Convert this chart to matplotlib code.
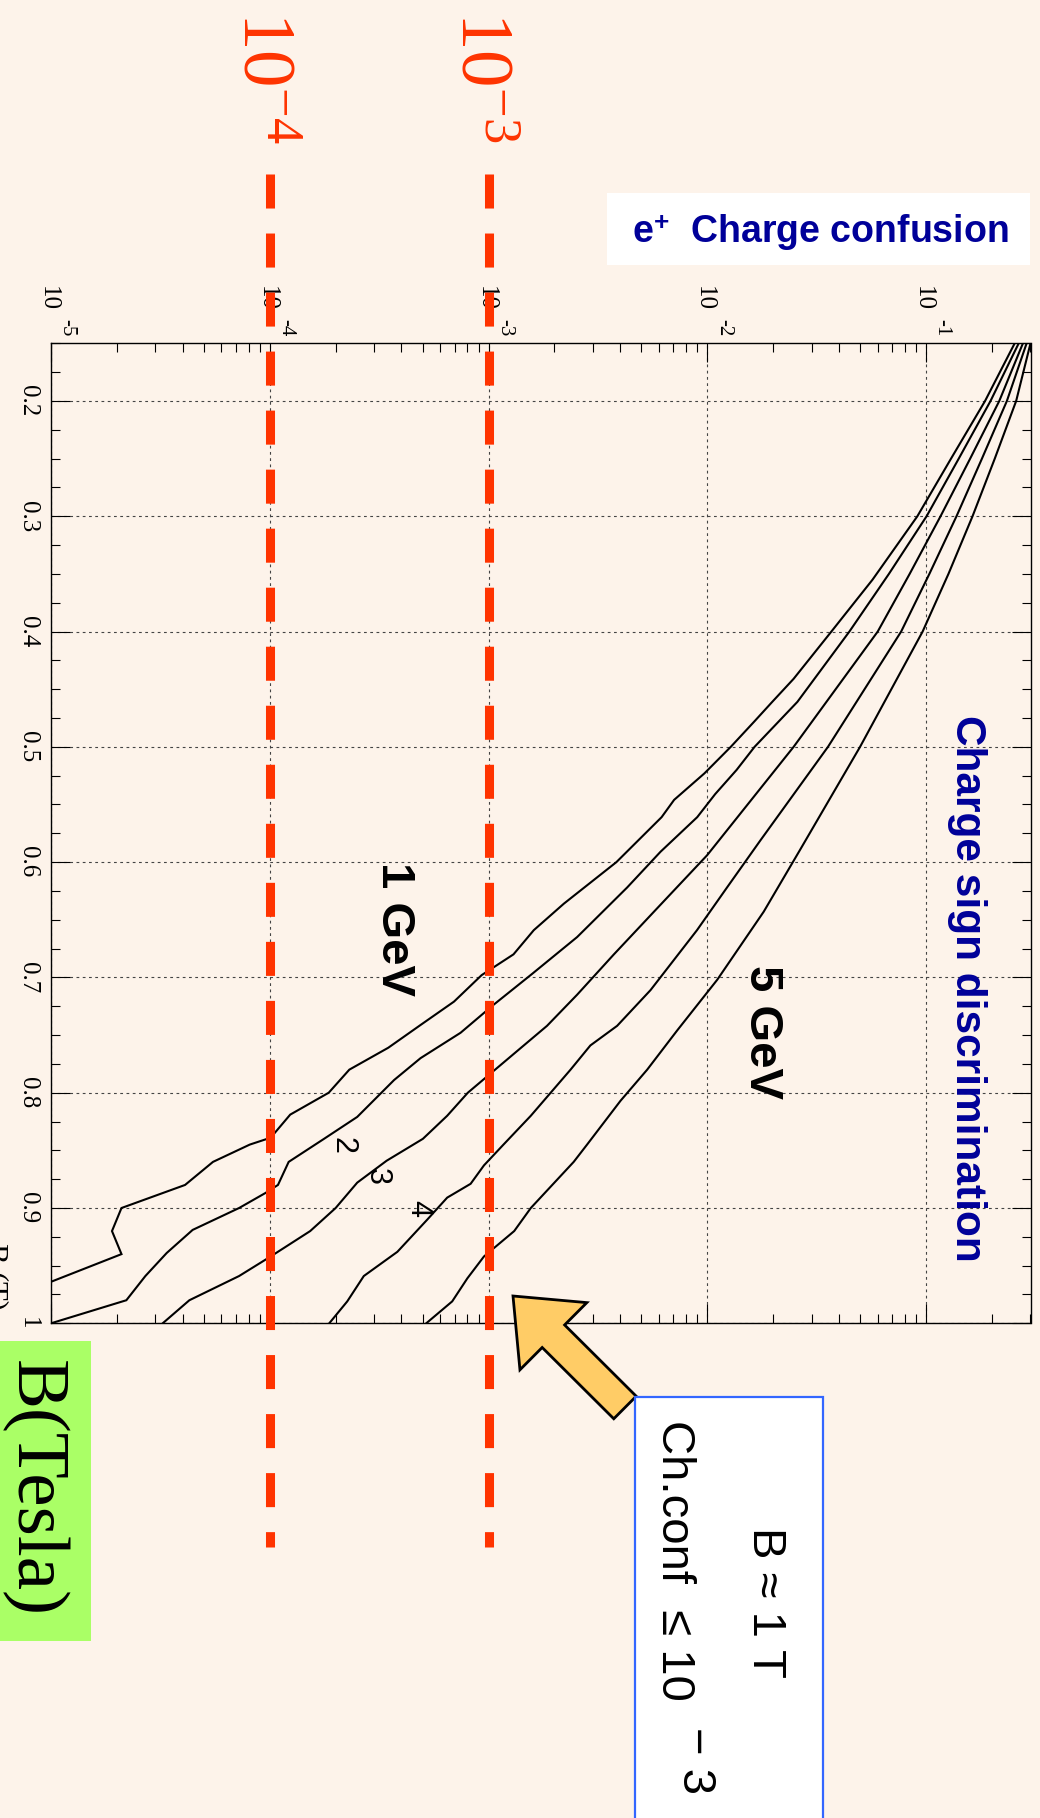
import matplotlib
matplotlib.use("Agg")
import matplotlib.pyplot as plt
import numpy as np
from matplotlib.ticker import FixedLocator, MultipleLocator, LogLocator, NullFormatter
from matplotlib.patches import Rectangle, FancyArrow
from matplotlib.lines import Line2D
from matplotlib.transforms import Affine2D, blended_transform_factory

plt.rcParams['mathtext.fontset'] = 'custom'
plt.rcParams['mathtext.rm'] = 'Liberation Serif'
plt.rcParams['mathtext.it'] = 'Liberation Serif:italic'
plt.rcParams['mathtext.bf'] = 'Liberation Sans:bold'
plt.rcParams['mathtext.sf'] = 'Liberation Sans'
plt.rcParams['lines.scale_dashes'] = False

# ---- data: charge confusion probability vs. magnetic field, per momentum ----
b_1gev = [0.15, 0.20, 0.25, 0.30, 0.355, 0.40, 0.441, 0.461, 0.478, 0.50, 0.523, 0.546,
          0.561, 0.60, 0.636, 0.659, 0.680, 0.698, 0.721, 0.741, 0.761, 0.780, 0.800,
          0.819, 0.839, 0.845, 0.860, 0.880, 0.900, 0.920, 0.940, 0.964]
conf_1gev = [0.254, 0.186, 0.130, 0.0912, 0.0569, 0.0369, 0.0248, 0.0198, 0.0164, 0.0128,
             0.0097, 0.00705, 0.00618, 0.00384, 0.00221, 0.00161, 0.00130, 0.00093,
             0.000695, 0.000491, 0.000348, 0.000231, 0.000186, 0.000124, 0.000101,
             8.1e-5, 5.5e-5, 4.1e-5, 2.1e-5, 1.9e-5, 2.1e-5, 1.0e-5]

b_2gev = [0.15, 0.20, 0.25, 0.30, 0.35, 0.40, 0.461, 0.50, 0.52, 0.541, 0.561, 0.591,
          0.622, 0.665, 0.697, 0.724, 0.748, 0.770, 0.789, 0.821, 0.840, 0.860, 0.880,
          0.887, 0.900, 0.919, 0.939, 0.959, 0.980, 1.0]
conf_2gev = [0.265, 0.197, 0.141, 0.1005, 0.0676, 0.0446, 0.0258, 0.01644, 0.01361,
             0.01086, 0.00899, 0.00611, 0.0043, 0.00254, 0.00158, 0.00105, 0.000745,
             0.000489, 0.00037, 0.000251, 0.000177, 0.000122, 0.000109, 9.55e-5,
             7.24e-5, 4.44e-5, 3.38e-5, 2.70e-5, 2.21e-5, 1.0e-5]

b_3gev = [0.15, 0.20, 0.25, 0.30, 0.35, 0.40, 0.50, 0.594, 0.640, 0.680, 0.715, 0.742,
          0.766, 0.800, 0.820, 0.840, 0.859, 0.878, 0.900, 0.920, 0.942, 0.959, 0.980, 1.0]
conf_3gev = [0.277, 0.216, 0.159, 0.1164, 0.0841, 0.0601, 0.0248, 0.00998, 0.0059,
             0.00374, 0.00254, 0.00185, 0.00131, 0.000804, 0.000647, 0.000501,
             0.000342, 0.000251, 0.000200, 0.000153, 0.000101, 7.24e-5, 4.29e-5, 3.24e-5]

b_4gev = [0.15, 0.20, 0.25, 0.30, 0.35, 0.40, 0.50, 0.581, 0.622, 0.659, 0.711, 0.742,
          0.759, 0.780, 0.820, 0.845, 0.863, 0.879, 0.891, 0.910, 0.938, 0.959, 0.981, 1.0]
conf_4gev = [0.288, 0.234, 0.180, 0.1377, 0.1035, 0.0769, 0.0356, 0.0175, 0.0123,
             0.00897, 0.0055, 0.00387, 0.00292, 0.00237, 0.00156, 0.00117, 0.000953,
             0.000828, 0.000647, 0.000525, 0.000383, 0.000269, 0.000226, 0.000187]

b_5gev = [0.15, 0.20, 0.25, 0.30, 0.35, 0.40, 0.50, 0.589, 0.643, 0.702, 0.746, 0.780,
          0.807, 0.845, 0.860, 0.900, 0.920, 0.942, 0.961, 0.981, 1.0]
conf_5gev = [0.300, 0.258, 0.206, 0.163, 0.1265, 0.0964, 0.0499, 0.0266, 0.0181, 0.0111,
             0.00728, 0.00531, 0.00401, 0.00282, 0.00245, 0.00156, 0.00131, 0.000953,
             0.00080, 0.000682, 0.000519]

conf_ticks = [1e-5, 1e-4, 1e-3, 1e-2, 1e-1]
conf_exponents = ["-5", "-4", "-3", "-2", "-1"]
b_ticks = [0.2, 0.3, 0.4, 0.5, 0.6, 0.7, 0.8, 0.9, 1.0]
b_tick_labels = ["0.2", "0.3", "0.4", "0.5", "0.6", "0.7", "0.8", "0.9", "1"]
thresholds = [1e-4, 1e-3]
threshold_labels = [r"$10^{-4}$", r"$10^{-3}$"]

# ---- style ----
W, H, DPI = 1040, 1818, 100
BG = '#fdf3ea'
RED = '#ff3300'
NAVY = '#000099'
SERIF = 'Liberation Serif'
SANS = 'Liberation Sans'

fig = plt.figure(figsize=(W / DPI, H / DPI), dpi=DPI, facecolor=BG)
# pixel coordinates measured from the top-left corner of the canvas
PX = Affine2D().scale(1.0 / W, -1.0 / H).translate(0, 1) + fig.transFigure

ax_l, ax_r, ax_t, ax_b = 51, 1030.5, 343.3, 1323.3
ax = fig.add_axes([ax_l / W, 1 - ax_b / H, (ax_r - ax_l) / W, (ax_b - ax_t) / H])
ax.set_facecolor(BG)
ax.set_xscale('log')
ax.set_xlim(1e-5, 0.30)
ax.set_ylim(1.0, 0.15)

for b, c in [(b_1gev, conf_1gev), (b_2gev, conf_2gev), (b_3gev, conf_3gev),
             (b_4gev, conf_4gev), (b_5gev, conf_5gev)]:
    ax.plot(c, b, color='black', lw=1.5, solid_joinstyle='miter', zorder=3)

ax.xaxis.set_major_locator(FixedLocator(conf_ticks))
ax.xaxis.set_minor_locator(LogLocator(base=10, subs=np.arange(2, 10), numticks=30))
ax.xaxis.set_minor_formatter(NullFormatter())
ax.yaxis.set_major_locator(FixedLocator(b_ticks))
ax.yaxis.set_minor_locator(MultipleLocator(0.025))
ax.tick_params(which='both', direction='in', top=True, bottom=True, left=True, right=True,
               labelbottom=False, labeltop=False, labelleft=False, labelright=False,
               width=0.8, color='black')
ax.tick_params(which='major', length=14)
ax.tick_params(which='minor', length=6.8)
ax.grid(True, which='major', color='#444444', lw=0.8, ls=(0, (2.0, 2.5)))
for s in ax.spines.values():
    s.set_linewidth(1.0)

# tick labels, laid out along the rotated axes
for v, e in zip(conf_ticks, conf_exponents):
    ax.annotate("10", xy=(v, 1), xycoords=('data', 'axes fraction'), xytext=(-9, 32),
                textcoords='offset pixels', rotation=-90, rotation_mode='anchor',
                ha='right', va='baseline', family=SERIF, fontsize=18, annotation_clip=False)
    ax.annotate(e, xy=(v, 1), xycoords=('data', 'axes fraction'), xytext=(11.5, 7),
                textcoords='offset pixels', rotation=-90, rotation_mode='anchor',
                ha='right', va='baseline', family=SERIF, fontsize=15, annotation_clip=False)
for v, s in zip(b_ticks, b_tick_labels):
    ax.annotate(s, xy=(0, v), xycoords=('axes fraction', 'data'), xytext=(-29.3, 0),
                textcoords='offset pixels', rotation=-90, rotation_mode='anchor',
                ha='center', va='baseline', family=SERIF, fontsize=18, annotation_clip=False)

# old axis title, mostly off the canvas
fig.text(-13, 1243, "B (T)", transform=PX, rotation=-90, rotation_mode='anchor',
         ha='left', va='baseline', family=SERIF, fontsize=22)

# curve labels
rot = dict(rotation=-90, ha='center', va='center', transform=PX)
fig.text(394, 929, "1 GeV", family=SANS, fontweight='bold', fontsize=34, **rot)
fig.text(762, 1032, "5 GeV", family=SANS, fontweight='bold', fontsize=34, **rot)
fig.text(967, 988, "Charge sign discrimination", family=SANS, fontweight='bold',
         fontsize=30.5, color=NAVY, **rot)
for s, (x, y) in zip(["2", "3", "4"], [(343, 1145), (377, 1176), (418, 1208)]):
    fig.text(x, y, s, family=SANS, fontsize=22, **rot)

# title box
fig.add_artist(Rectangle((607, 193), 423, 72, transform=PX, fc='white', ec='none'))
fig.text(632, 243, r"$\mathbf{e}^{\mathbf{+}}$  Charge confusion", transform=PX,
         family=SANS, fontweight='bold', fontsize=27, color=NAVY, ha='left', va='baseline')

# threshold lines at 1e-4 and 1e-3 with their big labels
vtrans = blended_transform_factory(ax.transData, PX)
for v in thresholds:
    fig.add_artist(Line2D([v, v], [174, 1547], transform=vtrans, color=RED, lw=6.5,
                          dashes=(24.5, 18.0), dash_capstyle='butt', clip_on=False, zorder=5))
for v, lab in zip(thresholds, threshold_labels):
    xc = vtrans.transform((v, 0))[0]
    fig.text(xc - 27, 11, lab, transform=PX, rotation=-90, rotation_mode='anchor',
             ha='left', va='baseline', fontsize=54, color=RED)

# x-axis name box
fig.add_artist(Rectangle((0, 1341), 91, 300, transform=PX, fc='#aaff66', ec='none'))
fig.text(16, 1360, "B(Tesla)", transform=PX, rotation=-90, rotation_mode='anchor',
         ha='left', va='baseline', family=SERIF, fontsize=54, color='black')

# working-point note with arrow
fig.add_artist(FancyArrow(625, 1407.5, -112, -111.5, width=31.8, head_width=94.8,
                          head_length=57, length_includes_head=True, transform=PX,
                          fc='#ffcc66', ec='black', lw=2.0, joinstyle='miter'))
fig.add_artist(Rectangle((635, 1397), 188, 450, transform=PX, fc='white',
                         ec='#3366ff', lw=1.6))
fig.text(753, 1527, "B \u2248 1 T", transform=PX, rotation=-90, rotation_mode='anchor',
         ha='left', va='baseline', family=SANS, fontsize=34)
fig.text(662, 1420, "Ch.conf  \u2264 10", transform=PX, rotation=-90, rotation_mode='anchor',
         ha='left', va='baseline', family=SANS, fontsize=34)
fig.text(683, 1727, "\u2212 3", transform=PX, rotation=-90, rotation_mode='anchor',
         ha='left', va='baseline', family=SANS, fontsize=34)

fig.savefig("out.png", dpi=DPI, facecolor=BG)
